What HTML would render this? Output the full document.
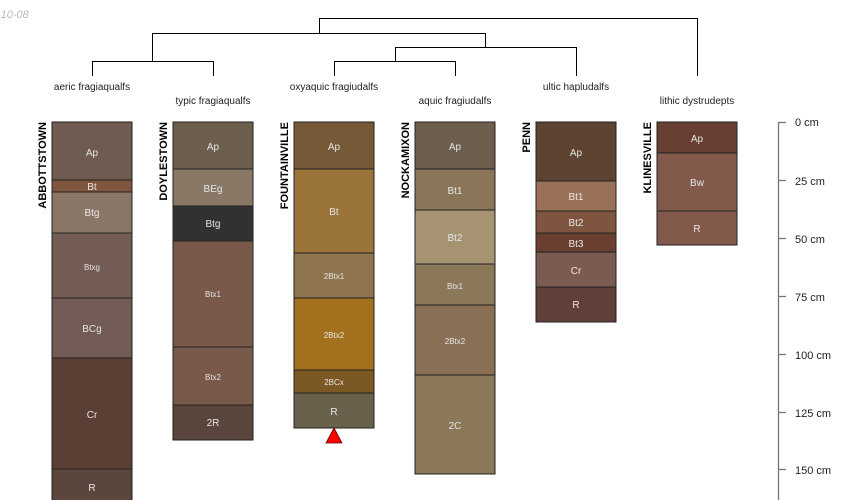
<!DOCTYPE html>
<html><head><meta charset="utf-8"><style>
html,body{margin:0;padding:0;background:#fff;width:850px;height:500px;overflow:hidden}
svg{display:block;font-family:"Liberation Sans",sans-serif}
</style></head><body>
<svg width="850" height="500" viewBox="0 0 850 500">
<text x="-3" y="18" font-size="11" font-style="italic" fill="#bbb">-10-08</text>
<g stroke="#000" stroke-width="1" fill="none">
<path d="M319.5 33V18.5H697.5V76"/>
<path d="M152.5 61V33.5H485.5V47"/>
<path d="M92.5 76V61.5H213.5V76"/>
<path d="M395.5 61V47.5H576.5V76"/>
<path d="M334.5 76V61.5H455.5V76"/>
</g>
<g font-size="10" fill="#222" text-anchor="middle">
<text x="92" y="90">aeric fragiaqualfs</text>
<text x="213" y="104">typic fragiaqualfs</text>
<text x="334" y="90">oxyaquic fragiudalfs</text>
<text x="455" y="104">aquic fragiudalfs</text>
<text x="576" y="90">ultic hapludalfs</text>
<text x="697" y="104">lithic dystrudepts</text>
</g>
<g font-size="11" font-weight="bold" fill="#000" text-anchor="end">
<text transform="translate(46,122) rotate(-90)">ABBOTTSTOWN</text>
<text transform="translate(167,122) rotate(-90)">DOYLESTOWN</text>
<text transform="translate(288,122) rotate(-90)">FOUNTAINVILLE</text>
<text transform="translate(409,122) rotate(-90)">NOCKAMIXON</text>
<text transform="translate(530,122) rotate(-90)">PENN</text>
<text transform="translate(651,122) rotate(-90)">KLINESVILLE</text>
</g>
<g stroke="#222" stroke-width="1">
<rect x="52" y="122" width="80" height="58" fill="#6f5b4f"/>
<rect x="52" y="180" width="80" height="12" fill="#80553d"/>
<rect x="52" y="192" width="80" height="41" fill="#8a7767"/>
<rect x="52" y="233" width="80" height="65" fill="#725c53"/>
<rect x="52" y="298" width="80" height="60" fill="#725c55"/>
<rect x="52" y="358" width="80" height="111" fill="#5c3f34"/>
<rect x="52" y="469" width="80" height="40" fill="#5a463d"/>
<rect x="173" y="122" width="80" height="47" fill="#6e5e4d"/>
<rect x="173" y="169" width="80" height="37" fill="#8a7866"/>
<rect x="173" y="206" width="80" height="35" fill="#313131"/>
<rect x="173" y="241" width="80" height="106" fill="#78594a"/>
<rect x="173" y="347" width="80" height="58" fill="#78594a"/>
<rect x="173" y="405" width="80" height="35" fill="#5a453c"/>
<rect x="294" y="122" width="80" height="47" fill="#765a38"/>
<rect x="294" y="169" width="80" height="84" fill="#9a7438"/>
<rect x="294" y="253" width="80" height="45" fill="#8f7450"/>
<rect x="294" y="298" width="80" height="72" fill="#a3711e"/>
<rect x="294" y="370" width="80" height="23" fill="#7c5824"/>
<rect x="294" y="393" width="80" height="35" fill="#69614b"/>
<rect x="415" y="122" width="80" height="47" fill="#6e5e4d"/>
<rect x="415" y="169" width="80" height="41" fill="#8a7559"/>
<rect x="415" y="210" width="80" height="54" fill="#a59372"/>
<rect x="415" y="264" width="80" height="41" fill="#8a7859"/>
<rect x="415" y="305" width="80" height="70" fill="#8a7055"/>
<rect x="415" y="375" width="80" height="99" fill="#8a7859"/>
<rect x="536" y="122" width="80" height="59" fill="#5e4333"/>
<rect x="536" y="181" width="80" height="30" fill="#9a7058"/>
<rect x="536" y="211" width="80" height="22" fill="#80553f"/>
<rect x="536" y="233" width="80" height="19" fill="#6b3f30"/>
<rect x="536" y="252" width="80" height="35" fill="#7b5a50"/>
<rect x="536" y="287" width="80" height="35" fill="#5f3f37"/>
<rect x="657" y="122" width="80" height="31" fill="#6a3f33"/>
<rect x="657" y="153" width="80" height="58" fill="#82594a"/>
<rect x="657" y="211" width="80" height="34" fill="#82594a"/>
</g>
<polygon points="334,428 326,443 342,443" fill="#f00" stroke="#600" stroke-width="0.8"/>
<g fill="#e6e6e6" text-anchor="middle" font-size="10">
<text x="92" y="156">Ap</text><text x="92" y="190">Bt</text><text x="92" y="216">Btg</text>
<text x="92" y="270" font-size="8">Btxg</text><text x="92" y="332">BCg</text><text x="92" y="418">Cr</text><text x="92" y="491">R</text>
<text x="213" y="150">Ap</text><text x="213" y="192">BEg</text><text x="213" y="227">Btg</text>
<text x="213" y="297" font-size="8">Btx1</text><text x="213" y="380" font-size="8">Btx2</text><text x="213" y="426">2R</text>
<text x="334" y="150">Ap</text><text x="334" y="215">Bt</text><text x="334" y="279" font-size="8">2Btx1</text>
<text x="334" y="338" font-size="8">2Btx2</text><text x="334" y="385" font-size="8">2BCx</text><text x="334" y="415">R</text>
<text x="455" y="150">Ap</text><text x="455" y="194">Bt1</text><text x="455" y="241">Bt2</text>
<text x="455" y="289" font-size="8">Btx1</text><text x="455" y="344" font-size="8">2Btx2</text><text x="455" y="429">2C</text>
<text x="576" y="156">Ap</text><text x="576" y="200">Bt1</text><text x="576" y="226">Bt2</text>
<text x="576" y="247">Bt3</text><text x="576" y="274">Cr</text><text x="576" y="308">R</text>
<text x="697" y="142">Ap</text><text x="697" y="186">Bw</text><text x="697" y="232">R</text>
</g>
<g stroke="#777" stroke-width="1.3">
<line x1="778.5" y1="122" x2="778.5" y2="500"/>
<line x1="778" y1="122.5" x2="786" y2="122.5"/>
<line x1="778" y1="180.5" x2="786" y2="180.5"/>
<line x1="778" y1="238.5" x2="786" y2="238.5"/>
<line x1="778" y1="296.5" x2="786" y2="296.5"/>
<line x1="778" y1="354.5" x2="786" y2="354.5"/>
<line x1="778" y1="412.5" x2="786" y2="412.5"/>
<line x1="778" y1="469.5" x2="786" y2="469.5"/>
</g>
<g font-size="11" fill="#222">
<text x="795" y="126">0 cm</text><text x="795" y="185">25 cm</text><text x="795" y="243">50 cm</text>
<text x="795" y="301">75 cm</text><text x="795" y="359">100 cm</text><text x="795" y="417">125 cm</text><text x="795" y="474">150 cm</text>
</g>
</svg>
</body></html>
